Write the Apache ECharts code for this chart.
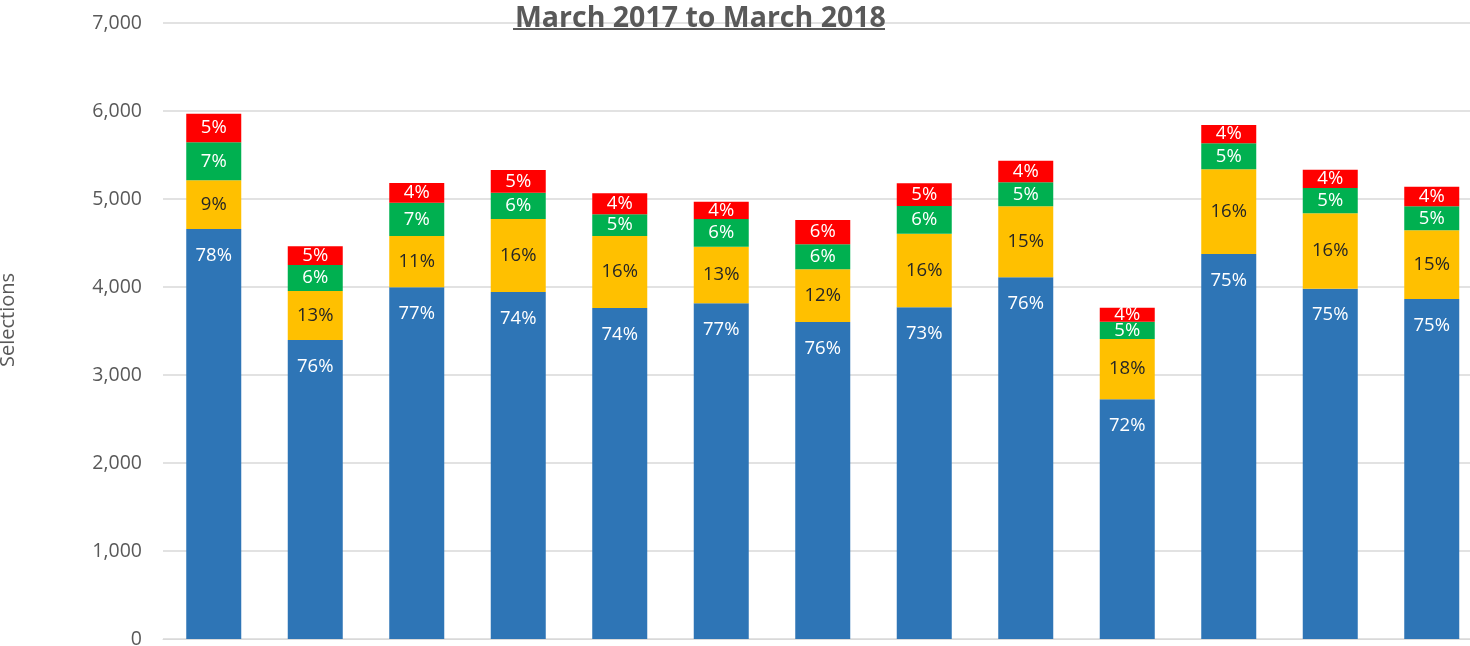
<!DOCTYPE html>
<html lang="en">
<head>
    <meta charset="UTF-8">
    <title>Selections</title>
    <style>
        html, body { margin: 0; padding: 0; background: #fff; }
    </style>
</head>
<body>
<div id="main" style="width: 1470px;height: 646px;"></div>
<script src="https://cdn.jsdelivr.net/npm/echarts@6/dist/echarts.min.js"></script>
<script type="text/javascript">

    // months (no x labels visible in the picture)
    var months = ['Mar 17', 'Apr 17', 'May 17', 'Jun 17', 'Jul 17', 'Aug 17', 'Sep 17',
                  'Oct 17', 'Nov 17', 'Dec 17', 'Jan 18', 'Feb 18', 'Mar 18'];

    // stacked values
    var blueVals   = [4659, 3398, 3997, 3943, 3761, 3815, 3602, 3769, 4110, 2724, 4375, 3981, 3864];
    var yellowVals = [553, 557, 583, 830, 819, 643, 599, 837, 807, 685, 962, 856, 780];
    var greenVals  = [432, 295, 378, 299, 246, 315, 284, 314, 272, 197, 296, 288, 273];
    var redVals    = [325, 212, 224, 258, 239, 197, 276, 258, 247, 159, 208, 208, 223];

    // percentage labels as printed on the bars
    var bluePct   = [78, 76, 77, 74, 74, 77, 76, 73, 76, 72, 75, 75, 75];
    var yellowPct = [9, 13, 11, 16, 16, 13, 12, 16, 15, 18, 16, 16, 15];
    var greenPct  = [7, 6, 7, 6, 5, 6, 6, 6, 5, 5, 5, 5, 5];
    var redPct    = [5, 5, 4, 5, 4, 4, 6, 5, 4, 4, 4, 4, 4];

    var yTicks = [0, 1000, 2000, 3000, 4000, 5000, 6000, 7000];

    var labelFont = 'Open Sans';

    function pctLabel(pcts, color, pos, dist) {
        return {
            show: true,
            position: pos,
            distance: dist,
            fontFamily: labelFont,
            fontSize: 18.5,
            color: color,
            formatter: function (p) {
                return pcts[p.dataIndex] + '%';
            }
        };
    }

    function makeSeries(name, vals, color, label) {
        return {
            name: name,
            type: 'bar',
            stack: 'total',
            barWidth: 55,
            data: vals,
            itemStyle: { color: color },
            label: label,
            emphasis: { disabled: true }
        };
    }

    var option = {
        animation: false,
        backgroundColor: '#fff',
        title: {
            text: 'March 2017 to March 2018',
            left: 510,
            top: -1,
            textStyle: {
                fontFamily: labelFont,
                fontSize: 28.5,
                fontWeight: 'bold',
                color: '#595959'
            }
        },
        // underline for the title
        graphic: [{
            type: 'rect',
            left: 513,
            top: 28,
            shape: { width: 372, height: 2 },
            style: { fill: '#595959' },
            silent: true
        }],
        grid: {
            left: 163,
            top: 23,
            width: 1319.5,
            bottom: 7,
            outerBoundsMode: 'none'
        },
        xAxis: {
            type: 'category',
            data: months,
            axisTick: { show: false },
            axisLabel: { show: false },
            axisLine: { lineStyle: { color: '#D9D9D9', width: 1 } }
        },
        yAxis: {
            type: 'value',
            min: yTicks[0],
            max: yTicks[yTicks.length - 1],
            interval: 1000,
            name: 'Selections',
            nameLocation: 'middle',
            nameGap: 145,
            nameRotate: 90,
            nameTextStyle: {
                fontFamily: labelFont,
                fontSize: 20,
                color: '#595959',
                padding: [0, 0, 0, 22]
            },
            axisLine: { show: false },
            axisTick: { show: false },
            axisLabel: {
                margin: 21,
                fontFamily: labelFont,
                fontSize: 19.5,
                color: '#595959',
                formatter: function (v) {
                    return v.toLocaleString('en-US');
                }
            },
            splitLine: { lineStyle: { color: '#D9D9D9', width: 1.5 } }
        },
        series: [
            makeSeries('Blue', blueVals, '#2E75B6', pctLabel(bluePct, '#fff', 'insideTop', 17)),
            makeSeries('Yellow', yellowVals, '#FFC000', pctLabel(yellowPct, '#262626', 'inside')),
            makeSeries('Green', greenVals, '#00B050', pctLabel(greenPct, '#fff', 'inside')),
            makeSeries('Red', redVals, '#FF0000', pctLabel(redPct, '#fff', 'inside'))
        ]
    };

    var myChart = echarts.init(document.getElementById('main'));
    myChart.setOption(option);
    window.onresize = function () {
        myChart.resize();
    };
</script>
</body>
</html>
